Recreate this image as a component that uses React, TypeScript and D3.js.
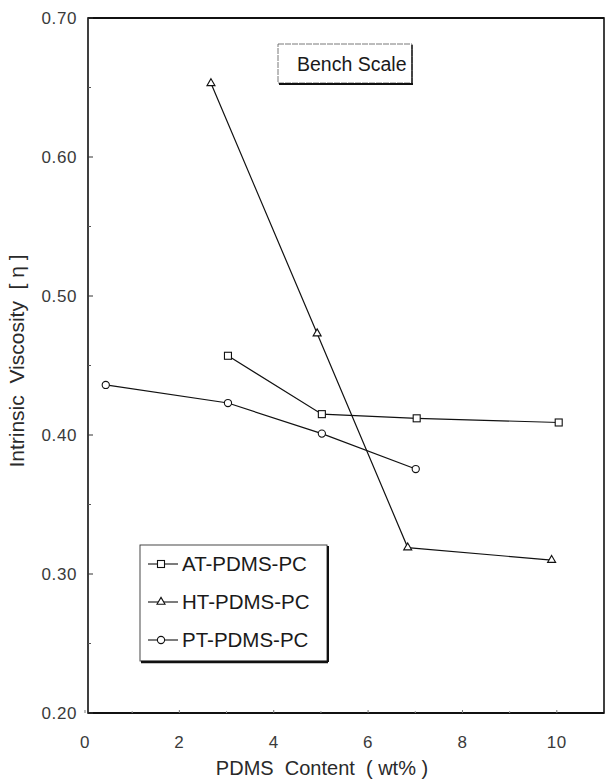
import React from "react";
import * as d3 from "d3";

const atX = [3.03, 5.02, 7.03, 10.04];
const atY = [0.457, 0.415, 0.412, 0.409];
const htX = [2.67, 4.92, 6.84, 9.89];
const htY = [0.653, 0.473, 0.319, 0.31];
const ptX = [0.44, 3.03, 5.02, 7.01];
const ptY = [0.436, 0.423, 0.401, 0.3755];
const xTicks = [0, 2, 4, 6, 8, 10];
const yTicks = [0.2, 0.3, 0.4, 0.5, 0.6, 0.7];
const yMinor = [0.25, 0.35, 0.45, 0.55, 0.65];
const xMinor = [1, 3, 5, 7, 9];
const seriesNames = ["AT-PDMS-PC", "HT-PDMS-PC", "PT-PDMS-PC"];
const seriesMarkers = ["square", "triangle", "circle"];

const W = 610;
const H = 783;
const L = 88, R = 604, T = 18, B = 713;
const FONT = "'Liberation Sans', Arial, sans-serif";

function Marker({ kind, x, y }: { kind: string; x: number; y: number }) {
  if (kind === "square") return <rect x={x - 3.5} y={y - 3.5} width={7} height={7} fill="white" stroke="#111" strokeWidth={1.1} />;
  if (kind === "triangle") {
    const sym = d3.symbol().type(d3.symbolTriangle).size(28)();
    return <path d={sym || ""} transform={`translate(${x},${y})`} fill="white" stroke="#111" strokeWidth={1.1} />;
  }
  return <circle cx={x} cy={y} r={3.6} fill="white" stroke="#111" strokeWidth={1.1} />;
}

export default function App() {
  const x = d3.scaleLinear().domain([0, 11]).range([85, 604]);
  const y = d3.scaleLinear().domain([0.2, 0.7]).range([B, T]);
  const line = d3.line<[number, number]>().x((d) => x(d[0])).y((d) => y(d[1]));
  const series = [
    { xs: atX, ys: atY },
    { xs: htX, ys: htY },
    { xs: ptX, ys: ptY },
  ];
  const legendRows = [564, 602, 640];
  return (
    <svg width={W} height={H} style={{ position: "absolute", left: 0, top: 0, background: "white" }} fontFamily={FONT}>
      <rect x={0} y={0} width={W} height={H} fill="white" />
      {/* frame */}
      <rect x={L} y={T} width={R - L} height={B - T} fill="none" stroke="#111" strokeWidth={1.6} />
      <line x1={L} y1={B} x2={R} y2={B} stroke="#111" strokeWidth={2.2} />
      <line x1={L} y1={T} x2={R} y2={T} stroke="#111" strokeWidth={2} />
      {/* y ticks */}
      {yTicks.map((t) => (
        <g key={"y" + t}>
          <line x1={L} x2={L + 5} y1={y(t)} y2={y(t)} stroke="#333" strokeWidth={1} />
          <text x={L - 11} y={y(t)} dy="0.35em" textAnchor="end" fontSize={17} letterSpacing={0.6} fill="#3a3a3a">{t.toFixed(2)}</text>
        </g>
      ))}
      {yMinor.map((t) => (
        <line key={"ym" + t} x1={L} x2={L + 3} y1={y(t)} y2={y(t)} stroke="#555" strokeWidth={1} />
      ))}
      {/* x ticks */}
      {xTicks.map((t) => (
        <g key={"x" + t}>
          <line x1={x(t)} x2={x(t)} y1={B} y2={B - 3} stroke="#777" strokeWidth={1} />
          <text x={x(t)} y={742} dy="0.35em" textAnchor="middle" fontSize={17} letterSpacing={0.6} fill="#3a3a3a">{t}</text>
        </g>
      ))}
      {xMinor.map((t) => (
        <line key={"xm" + t} x1={x(t)} x2={x(t)} y1={B} y2={B - 2} stroke="#999" strokeWidth={1} />
      ))}
      {/* axis titles */}
      <text x={322} y={775} textAnchor="middle" fontSize={20} fill="#2a2a2a" style={{ whiteSpace: "pre" }}>PDMS  Content  ( wt% )</text>
      <text transform={`translate(24,361) rotate(-90)`} textAnchor="middle" fontSize={21} fill="#2a2a2a" style={{ whiteSpace: "pre" }}>Intrinsic  Viscosity  [ η ]</text>
      {/* series */}
      {series.map((s, i) => {
        const pts = s.xs.map((v, j) => [v, s.ys[j]] as [number, number]);
        return (
          <g key={"s" + i}>
            <path d={line(pts) || ""} fill="none" stroke="#111" strokeWidth={1.2} />
            {pts.map((p, j) => (
              <Marker key={j} kind={seriesMarkers[i]} x={x(p[0])} y={y(p[1])} />
            ))}
          </g>
        );
      })}
      {/* Bench Scale box */}
      <rect x={278} y={44} width={134} height={39} fill="white" stroke="#555" strokeWidth={0.8} strokeDasharray="6 1" />
      <line x1={279} x2={413} y1={84} y2={84} stroke="#111" strokeWidth={2} />
      <line x1={412} x2={412} y1={45} y2={84} stroke="#111" strokeWidth={1.4} />
      <text x={297} y={64} dy="0.35em" fontSize={19.5} fill="#1a1a1a">Bench Scale</text>
      {/* legend */}
      <rect x={140} y={545} width={187} height={116} fill="white" stroke="#333" strokeWidth={0.9} />
      <line x1={141} x2={328} y1={662} y2={662} stroke="#111" strokeWidth={2.4} />
      <line x1={328} x2={328} y1={546} y2={662} stroke="#111" strokeWidth={2} />
      {seriesNames.map((n, i) => (
        <g key={"l" + i}>
          <line x1={148} x2={178} y1={legendRows[i]} y2={legendRows[i]} stroke="#111" strokeWidth={1.1} />
          <Marker kind={seriesMarkers[i]} x={161} y={legendRows[i]} />
          <text x={182} y={legendRows[i]} dy="0.35em" fontSize={20.5} fill="#1a1a1a">{n}</text>
        </g>
      ))}
    </svg>
  );
}
